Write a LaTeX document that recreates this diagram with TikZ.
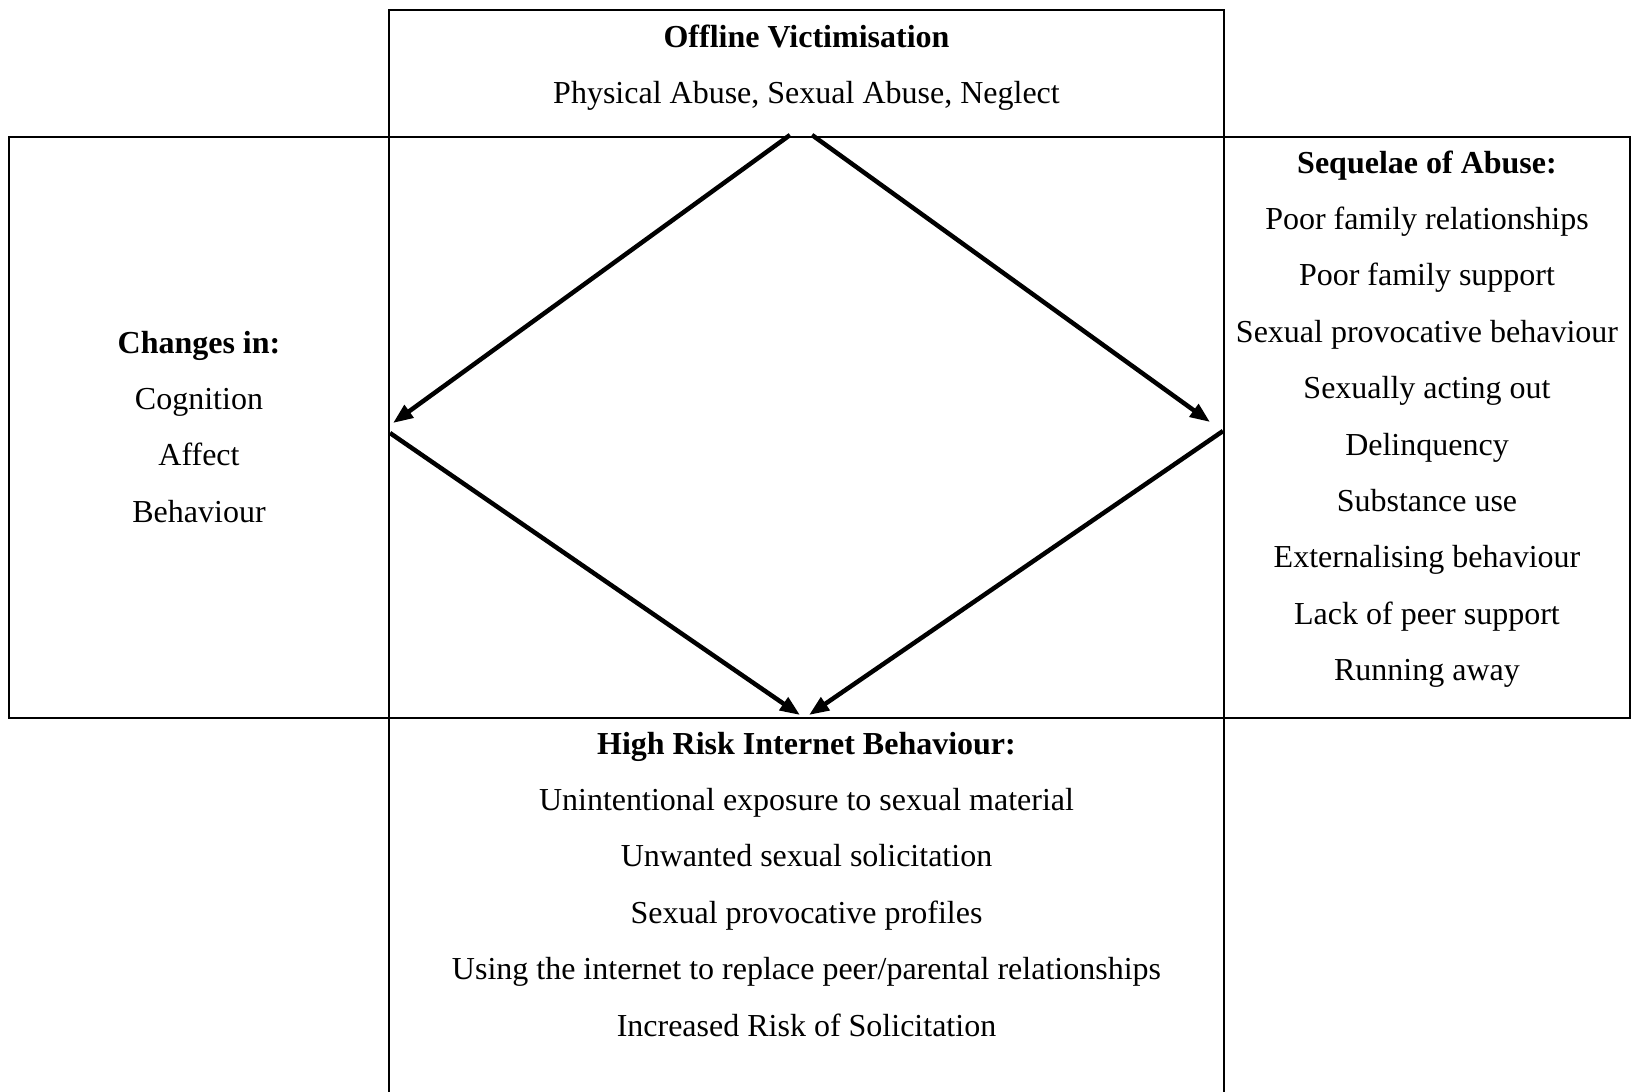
\documentclass[tikz,border=0pt]{standalone}
\usepackage{fontspec}
\setmainfont{Liberation Serif}
\usetikzlibrary{arrows.meta}

\begin{document}
\begin{tikzpicture}[x=1pt,y=-1pt,
  frame/.style={line width=2pt},
  link/.style={line width=4.5pt,-{Triangle[length=20pt,width=15pt]}},
  txt/.style={align=center,anchor=base,inner sep=0pt,
    font=\fontsize{32}{56.4}\selectfont}]
  \useasboundingbox (0,0) rectangle (1631,1092);
  % cadres
  \draw[frame] (389,10) rectangle (1224,137); % haut
  \draw[frame] (9.4,137) rectangle (1630,718); % bande du milieu
  \draw[frame] (389,137) -- (389,1092);
  \draw[frame] (1224,137) -- (1224,1092);

  % textes (base = derniere ligne)
  \node[txt] (off) at (806.5,103.4)
    {\textbf{Offline Victimisation}\\Physical Abuse, Sexual Abuse, Neglect};
  \node[txt] (chg) at (199,522.2)
    {\textbf{Changes in:}\\Cognition\\Affect\\Behaviour};
  \node[txt] (seq) at (1427,680.6)
    {\textbf{Sequelae of Abuse:}\\Poor family relationships\\Poor family support\\
     Sexual provocative behaviour\\Sexually acting out\\Delinquency\\
     Substance use\\Externalising behaviour\\Lack of peer support\\Running away};
  \node[txt] (risk) at (806.5,1036)
    {\textbf{High Risk Internet Behaviour:}\\Unintentional exposure to sexual material\\
     Unwanted sexual solicitation\\Sexual provocative profiles\\
     Using the internet to replace peer/parental relationships\\
     Increased Risk of Solicitation};

  % bouts des fleches
  \coordinate (off-l) at (790,135);
  \coordinate (off-r) at (812,135);
  \coordinate (chg-in) at (393,423);
  \coordinate (chg-out) at (390,433);
  \coordinate (seq-in) at (1210,422);
  \coordinate (seq-out) at (1223,431);
  \coordinate (risk-l) at (800,715);
  \coordinate (risk-r) at (809,715);
  % fleches
  \draw[link] (off-l) -- (chg-in);
  \draw[link] (off-r) -- (seq-in);
  \draw[link] (chg-out) -- (risk-l);
  \draw[link] (seq-out) -- (risk-r);
\end{tikzpicture}
\end{document}
